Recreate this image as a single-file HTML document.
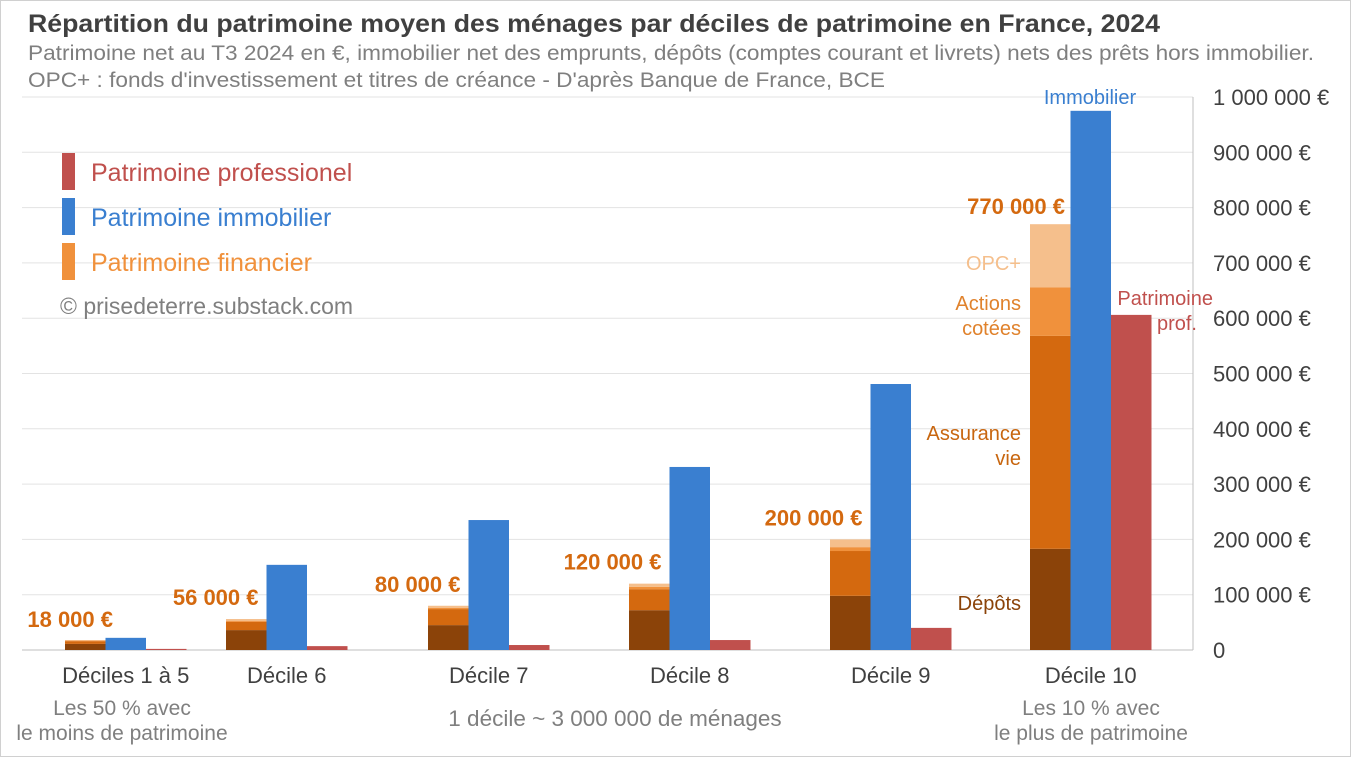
<!DOCTYPE html>
<html><head><meta charset="utf-8"><style>
body{margin:0;background:#fff}
svg{display:block;font-family:"Liberation Sans",Arial,sans-serif}
</style></head><body>
<svg id="c" width="1351" height="757" viewBox="0 0 1351 757">
<rect x="0.5" y="0.5" width="1350" height="756" fill="#fff" stroke="#d0d0d0"/>
<text x="28" y="32" font-size="25" font-weight="bold" fill="#404040" textLength="1132" lengthAdjust="spacingAndGlyphs">Répartition du patrimoine moyen des ménages par déciles de patrimoine en France, 2024</text>
<text x="28" y="60" font-size="21" fill="#7f7f7f" textLength="1286" lengthAdjust="spacingAndGlyphs">Patrimoine net au T3 2024 en €, immobilier net des emprunts, dépôts (comptes courant et livrets) nets des prêts hors immobilier.</text>
<text x="28" y="87" font-size="21" fill="#7f7f7f" textLength="857" lengthAdjust="spacingAndGlyphs">OPC+ : fonds d'investissement et titres de créance - D'après Banque de France, BCE</text>
<g id="grid"></g>
<g id="bars"></g>
<g id="labels"></g>
<line x1="1193" y1="97" x2="1193" y2="650" stroke="#bfbfbf"/>
<rect x="62" y="153" width="13" height="37" fill="#c0504d"/>
<text x="91" y="181" font-size="25" fill="#c0504d">Patrimoine professionel</text>
<rect x="62" y="198" width="13" height="37" fill="#3a7fd0"/>
<text x="91" y="226" font-size="25" fill="#3a7fd0">Patrimoine immobilier</text>
<rect x="62" y="243" width="13" height="37" fill="#f0913c"/>
<text x="91" y="271" font-size="25" fill="#f0913c">Patrimoine financier</text>
<text x="60" y="314" font-size="23" fill="#7f7f7f">© prisedeterre.substack.com</text>
<text x="1021" y="270" font-size="20" fill="#f5bf8c" text-anchor="end">OPC+</text>
<text x="1021" y="310" font-size="20" fill="#e0822c" text-anchor="end">Actions</text>
<text x="1021" y="335" font-size="20" fill="#e0822c" text-anchor="end">cotées</text>
<text x="1021" y="440" font-size="20" fill="#c8660f" text-anchor="end">Assurance</text>
<text x="1021" y="465" font-size="20" fill="#c8660f" text-anchor="end">vie</text>
<text x="1021" y="610" font-size="20" fill="#8b4309" text-anchor="end">Dépôts</text>
<text x="1090" y="104" font-size="20" fill="#3a7fd0" text-anchor="middle">Immobilier</text>
<text x="1213" y="305" font-size="20" fill="#c0504d" text-anchor="end">Patrimoine</text>
<text x="1197" y="330" font-size="20" fill="#c0504d" text-anchor="end">prof.</text>
<text x="122" y="715" font-size="21" fill="#7f7f7f" text-anchor="middle">Les 50 % avec</text>
<text x="122" y="740" font-size="21" fill="#7f7f7f" text-anchor="middle">le moins de patrimoine</text>
<text x="615" y="726" font-size="22.5" fill="#7f7f7f" text-anchor="middle">1 décile ~ 3 000 000 de ménages</text>
<text x="1091" y="715" font-size="21" fill="#7f7f7f" text-anchor="middle">Les 10 % avec</text>
<text x="1091" y="740" font-size="21" fill="#7f7f7f" text-anchor="middle">le plus de patrimoine</text>
</svg>
<script>
const categories=["Déciles 1 à 5","Décile 6","Décile 7","Décile 8","Décile 9","Décile 10"];
const depots=[11000,36000,45000,72000,98000,183000];
const assuranceVie=[5000,15000,29000,38000,81000,385000];
const actions=[1000,2000,2000,4000,7000,88000];
const opc=[1000,3000,4000,6000,14000,114000];
const immobilier=[22000,154000,235000,331000,481000,975000];
const professionnel=[2000,7000,9000,18000,40000,606000];
const totals=["18 000 €","56 000 €","80 000 €","120 000 €","200 000 €","770 000 €"];
const yTicks=[0,100000,200000,300000,400000,500000,600000,700000,800000,900000,1000000];
const yTickLabels=["0","100 000 €","200 000 €","300 000 €","400 000 €","500 000 €","600 000 €","700 000 €","800 000 €","900 000 €","1 000 000 €"];
const NS="http://www.w3.org/2000/svg";
const y=v=>650-v/1e6*553;
const groupX=[65,226,428,629,830,1030];
const bw=40.5;
function mk(tag,attrs,parent,text){const e=document.createElementNS(NS,tag);for(const k in attrs)e.setAttribute(k,attrs[k]);if(text!==undefined)e.textContent=text;document.getElementById(parent).appendChild(e);return e;}
yTicks.forEach((t,i)=>{
  const l=mk("line",{x1:22,x2:1193,y1:y(t),y2:y(t),stroke:t===0?"#bfbfbf":"#e3e3e3"},"grid");
  
  
  const tx=mk("text",{x:1213,y:y(t)+8,"font-size":22,fill:"#404040"},"grid",yTickLabels[i]);
  
  
});
const stackSeries=[[depots,"#8b4309"],[assuranceVie,"#d4690f"],[actions,"#f0913c"],[opc,"#f5bf8c"]];
categories.forEach((c,i)=>{
  const x0=groupX[i];let acc=0;
  stackSeries.forEach(([arr,col])=>{
    const r=mk("rect",{x:x0,width:bw,y:y(acc+arr[i]),height:y(acc)-y(acc+arr[i]),fill:col},"bars");
    
    
    acc+=arr[i];
  });
  const ri=mk("rect",{x:x0+bw,width:bw,y:y(immobilier[i]),height:650-y(immobilier[i]),fill:"#3a7fd0"},"bars");
  
  
  const rp=mk("rect",{x:x0+2*bw,width:bw,y:y(professionnel[i]),height:650-y(professionnel[i]),fill:"#c0504d"},"bars");
  
  
  const tl=mk("text",{x:x0+bw-8,y:y(acc)-14,"font-size":22,"font-weight":"bold",fill:"#d4690f","text-anchor":"end"},"labels",totals[i]);
  if(i===0){tl.setAttribute("x",x0+48);tl.setAttribute("y",y(acc)-13);}
  if(i===5){tl.setAttribute("y",y(acc)-10);tl.setAttribute("x",x0+35);}
  
  
  const cl=mk("text",{x:x0+bw*1.5,y:683,"font-size":22,fill:"#404040","text-anchor":"middle"},"labels",c);
  
  
});
</script>
</body></html>
